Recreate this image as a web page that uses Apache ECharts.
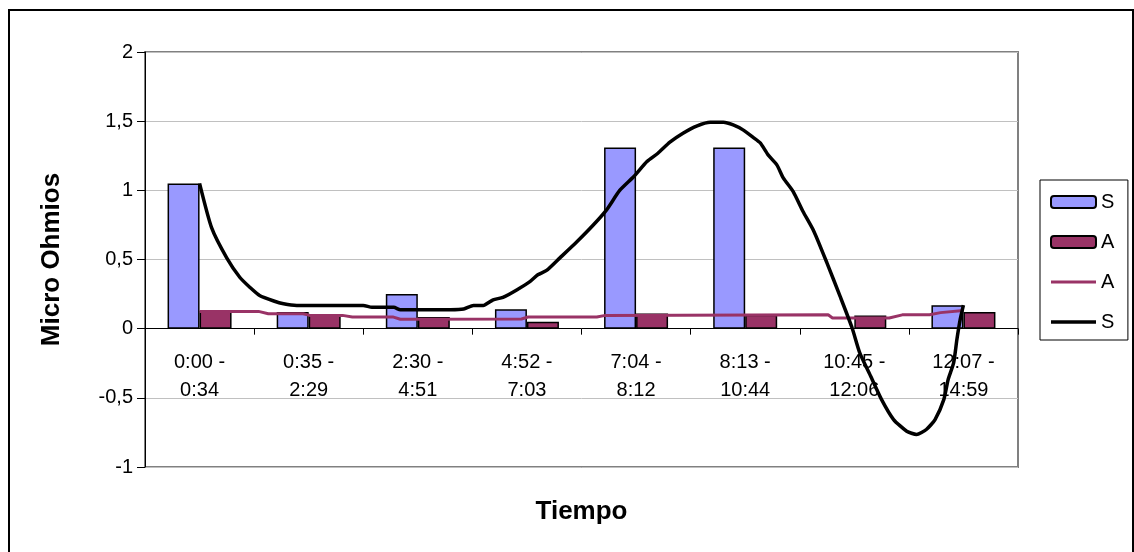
<!DOCTYPE html>
<html>
<head>
<meta charset="utf-8">
<script src="https://cdn.jsdelivr.net/npm/echarts@6/dist/echarts.min.js"></script>
<style>
  html, body { margin: 0; padding: 0; background: #fff; }
  #chart { width: 1134px; height: 552px; }
</style>
</head>
<body>
<div id="chart"></div>
<script>
// Time windows on the category axis
const categories = ['0:00 -\n0:34', '0:35 -\n2:29', '2:30 -\n4:51', '4:52 -\n7:03',
                    '7:04 -\n8:12', '8:13 -\n10:44', '10:45 -\n12:06', '12:07 -\n14:59'];

// Bar values per window
const barS = [1.05, 0.12, 0.25, 0.14, 1.31, 1.31, null, 0.17];
const barA = [0.13, 0.10, 0.085, 0.05, 0.11, 0.10, 0.095, 0.12];

// Trend line A: position in category units (0 = first window) and value
const lineAPos = [0, 0.54, 0.63, 0.95, 1.01, 1.31, 1.40, 1.77, 1.84, 2.95, 3.01, 3.64, 3.72,
                  5.76, 5.80, 6.32, 6.44, 6.69, 6.79, 7.0];
const lineAVal = [0.125, 0.125, 0.108, 0.108, 0.096, 0.096, 0.085, 0.085, 0.068, 0.07, 0.084, 0.084, 0.096,
                  0.1, 0.077, 0.077, 0.1, 0.1, 0.116, 0.132];

// Trend line S: position in category units and value
const lineSPos = [0, 0.11, 0.25, 0.37, 0.46, 0.55, 0.68, 0.77, 0.89, 1.5, 1.58, 1.78, 1.84, 2.3, 2.42,
                  2.51, 2.6, 2.69, 2.78, 2.91, 3.03, 3.1, 3.18, 3.3, 3.46, 3.61, 3.73, 3.85, 3.98,
                  4.1, 4.2, 4.31, 4.43, 4.56, 4.68, 4.8, 4.89, 4.98, 5.07, 5.14, 5.21, 5.29, 5.35,
                  5.44, 5.53, 5.63, 5.75, 5.87, 5.98, 6.05, 6.15, 6.25, 6.36, 6.48, 6.57, 6.66,
                  6.74, 6.82, 6.86, 6.91, 6.94, 6.97, 7.0];
const lineSVal = [1.05, 0.73, 0.51, 0.37, 0.3, 0.24, 0.2, 0.18, 0.168, 0.168, 0.154, 0.154, 0.137, 0.137, 0.142,
                  0.168, 0.168, 0.209, 0.226, 0.282, 0.342, 0.39, 0.421, 0.51, 0.63, 0.751, 0.859, 0.999, 1.1,
                  1.208, 1.268, 1.348, 1.413, 1.466, 1.492, 1.492, 1.473, 1.437, 1.384, 1.341, 1.256, 1.184, 1.088,
                  0.991, 0.847, 0.703, 0.474, 0.233, 0.005, -0.175, -0.344, -0.513, -0.657, -0.741, -0.765, -0.729,
                  -0.657, -0.513, -0.368, -0.248, -0.079, 0.065, 0.17];

// Y axis ticks
const yMin = -1, yMax = 2, yStep = 0.5;

const FONT = '"Liberation Sans", Arial, sans-serif';

// Plot box inside the 1134x552 canvas
const GRID = { left: 145, right: 116, top: 52, bottom: 85 };
const plotH = 552 - GRID.top - GRID.bottom;
// Lift the category axis from the plot bottom up to the y = 0 line
const zeroLift = plotH * (0 - yMin) / (yMax - yMin);

const chart = echarts.init(document.getElementById('chart'), null, { renderer: 'canvas' });

const zip = (xs, ys) => xs.map((x, i) => [x, ys[i]]);

chart.setOption({
  animation: false,
  backgroundColor: '#ffffff',
  textStyle: { fontFamily: FONT, color: '#000' },
  graphic: [{
    type: 'rect',
    shape: { x: 9, y: 10, width: 1124, height: 600 },
    style: { fill: 'none', stroke: '#000', lineWidth: 2 },
    silent: true
  }],
  grid: Object.assign({
    containLabel: false,
    outerBoundsMode: 'none',
    show: true, borderColor: '#808080', borderWidth: 2, backgroundColor: 'transparent'
  }, GRID),
  legend: {
    orient: 'vertical',
    left: 1040, top: 180,
    padding: [12, 8, 8, 10],
    itemWidth: 45, itemHeight: 12, itemGap: 20,
    borderColor: '#000', borderWidth: 1,
    textStyle: { fontFamily: FONT, fontSize: 20, color: '#000' },
    data: [
      { name: 'S' },
      { name: 'A' },
      { name: 'A ', icon: 'path://M0 0H60V4H0Z' },
      { name: 'S ', icon: 'path://M0 0H60V4.6H0Z' }
    ]
  },
  xAxis: [{
    type: 'category',
    data: categories,
    boundaryGap: true,
    offset: -zeroLift,
    name: 'Tiempo',
    nameLocation: 'middle',
    nameGap: 170,
    nameTextStyle: { fontFamily: FONT, fontSize: 26, fontWeight: 'bold', color: '#000' },
    axisLine: { onZero: false, lineStyle: { color: '#000', width: 1 } },
    axisTick: { show: true, length: 6, inside: false, lineStyle: { color: '#000' } },
    axisLabel: { fontFamily: FONT, fontSize: 20, lineHeight: 28, color: '#000', margin: 20, interval: 0 },
    splitLine: { show: false }
  }, {
    type: 'value',
    min: -0.5, max: 7.5,
    show: false,
    position: 'bottom'
  }],
  yAxis: {
    type: 'value',
    min: yMin, max: yMax, interval: yStep,
    name: 'Micro Ohmios',
    nameLocation: 'middle',
    nameGap: 80,
    nameRotate: 90,
    nameTextStyle: { fontFamily: FONT, fontSize: 26, fontWeight: 'bold', color: '#000' },
    axisLine: { show: true, onZero: false, lineStyle: { color: '#000', width: 1 } },
    axisTick: { show: true, length: 8, inside: false, lineStyle: { color: '#000' } },
    axisLabel: {
      fontFamily: FONT, fontSize: 20, color: '#000', margin: 12,
      formatter: v => String(v).replace('.', ',')
    },
    splitLine: { show: true, lineStyle: { color: '#c0c0c0', width: 1 } }
  },
  series: [{
    name: 'S',
    type: 'bar',
    xAxisIndex: 0,
    data: barS,
    barWidth: 32,
    barGap: '0%',
    itemStyle: { color: '#9999ff', borderColor: '#000', borderWidth: 1.5 }
  }, {
    name: 'A',
    type: 'bar',
    xAxisIndex: 0,
    data: barA,
    barWidth: 32,
    barGap: '0%',
    itemStyle: { color: '#993366', borderColor: '#000', borderWidth: 1.5 }
  }, {
    name: 'A ',
    type: 'line',
    xAxisIndex: 1,
    data: zip(lineAPos, lineAVal),
    symbol: 'none',
    lineStyle: { color: '#993366', width: 3 },
    itemStyle: { color: '#993366' }
  }, {
    name: 'S ',
    type: 'line',
    xAxisIndex: 1,
    data: zip(lineSPos, lineSVal),
    symbol: 'none',
    smooth: 0.2,
    lineStyle: { color: '#000', width: 3.5 },
    itemStyle: { color: '#000' }
  }]
});
</script>
</body>
</html>
